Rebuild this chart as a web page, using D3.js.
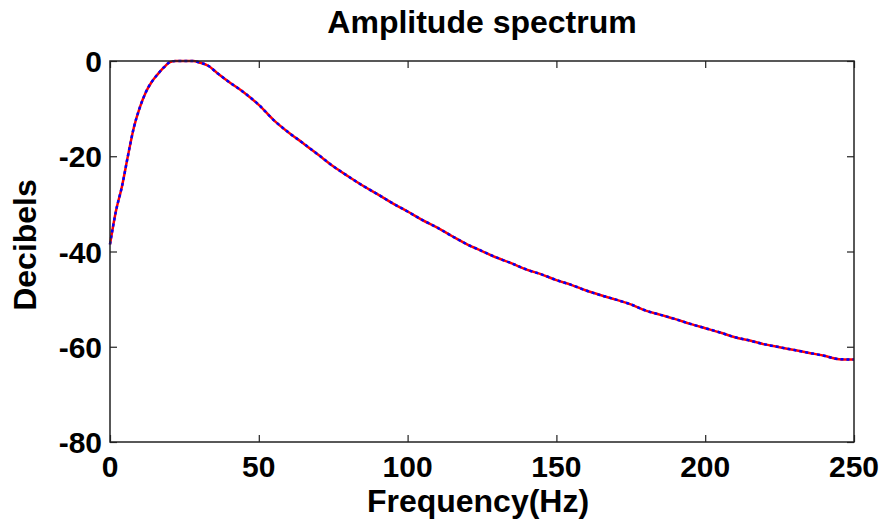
<!DOCTYPE html>
<html>
<head>
<meta charset="utf-8">
<script src="https://cdn.jsdelivr.net/npm/d3@7"></script>
<style>
  body { margin: 0; background: #fff; }
  text { font-family: "Liberation Sans", Arial, sans-serif; font-weight: bold; fill: #000; }
</style>
</head>
<body>
<div id="chart"></div>
<script>
// Data
var freqs = [0, 2, 4, 6, 8, 10, 12, 14, 16, 18, 20, 22, 25, 28, 30, 33, 36, 40, 45, 50,
             55, 60, 65, 70, 75, 80, 85, 90, 95, 100, 105, 110, 115, 120, 125, 130, 135, 140, 145, 150,
             155, 160, 165, 170, 175, 180, 185, 190, 195, 200, 205, 210, 215, 220, 225, 230, 235, 240, 245, 250];
var decibels = [-38.5, -31.5, -26.4, -20.0, -14.0, -9.8, -6.6, -4.4, -2.8, -1.4, -0.3, 0, 0, 0, -0.3, -1.0, -2.5, -4.4, -6.6, -9.2,
                -12.4, -15.0, -17.3, -19.7, -22.1, -24.2, -26.2, -28.0, -29.9, -31.6, -33.4, -35.0, -36.8, -38.5, -39.9, -41.3, -42.5, -43.8, -44.8, -46.0,
                -47.0, -48.2, -49.2, -50.1, -51.1, -52.4, -53.3, -54.2, -55.2, -56.1, -57.0, -58.0, -58.7, -59.5, -60.1, -60.7, -61.3, -61.9, -62.6, -62.7];
var xTicks = [0, 50, 100, 150, 200, 250];
var yTicks = [0, -20, -40, -60, -80];

var W = 883, H = 523;
var margin = {top: 61, right: 29, bottom: 81, left: 110},
    width = W - margin.left - margin.right,
    height = H - margin.top - margin.bottom;

var svg = d3.select("#chart").append("svg")
    .attr("width", W)
    .attr("height", H);

var g = svg.append("g")
    .attr("transform", "translate(" + margin.left + "," + margin.top + ")");

var x = d3.scaleLinear().domain([0, 250]).range([0, width]);
var y = d3.scaleLinear().domain([-80, 0]).range([height, 0]);

var data = freqs.map((f, i) => ({f: f, db: decibels[i]}));

// curve: red solid with blue dashes on top
var line = d3.line()
    .x(d => x(d.f))
    .y(d => y(d.db))
    .curve(d3.curveMonotoneX);

g.append("path")
    .datum(data)
    .attr("fill", "none")
    .attr("stroke", "#ff0000")
    .attr("stroke-width", 2.5)
    .attr("d", line);

g.append("path")
    .datum(data)
    .attr("fill", "none")
    .attr("stroke", "#0000ff")
    .attr("stroke-width", 2.5)
    .attr("stroke-dasharray", "3,3")
    .attr("d", line);

// axes with inward ticks on all four sides
var tickLen = 7;
function styleAxis(sel) {
    sel.select(".domain").remove();
    sel.selectAll(".tick line").attr("stroke", "#222").attr("stroke-width", 1.2);
    sel.selectAll("text").remove();
}

g.append("g").attr("transform", "translate(0," + height + ")")
    .call(d3.axisBottom(x).tickValues(xTicks).tickSize(-tickLen))
    .call(styleAxis);
g.append("g")
    .call(d3.axisTop(x).tickValues(xTicks).tickSize(-tickLen))
    .call(styleAxis);
g.append("g")
    .call(d3.axisLeft(y).tickValues(yTicks).tickSize(-tickLen))
    .call(styleAxis);
g.append("g").attr("transform", "translate(" + width + ",0)")
    .call(d3.axisRight(y).tickValues(yTicks).tickSize(-tickLen))
    .call(styleAxis);

// frame
g.append("rect")
    .attr("width", width)
    .attr("height", height)
    .attr("fill", "none")
    .attr("stroke", "#222")
    .attr("stroke-width", 1.5);

// tick labels
g.selectAll(".xlab")
    .data(xTicks)
    .enter().append("text")
    .attr("x", d => x(d))
    .attr("y", height + 35)
    .attr("text-anchor", "middle")
    .style("font-size", "30px")
    .text(d => d);

g.selectAll(".ylab")
    .data(yTicks)
    .enter().append("text")
    .attr("x", -8)
    .attr("y", d => y(d) + 11)
    .attr("text-anchor", "end")
    .style("font-size", "30px")
    .text(d => d);

// title and axis labels
svg.append("text")
    .attr("x", margin.left + width / 2)
    .attr("y", 33)
    .attr("text-anchor", "middle")
    .style("font-size", "32px")
    .text("Amplitude spectrum");

svg.append("text")
    .attr("x", margin.left + width / 2 - 4)
    .attr("y", 512)
    .attr("text-anchor", "middle")
    .style("font-size", "32px")
    .text("Frequency(Hz)");

svg.append("text")
    .attr("transform", "rotate(-90)")
    .attr("x", -245)
    .attr("y", 36)
    .attr("text-anchor", "middle")
    .style("font-size", "32px")
    .text("Decibels");
</script>
</body>
</html>
